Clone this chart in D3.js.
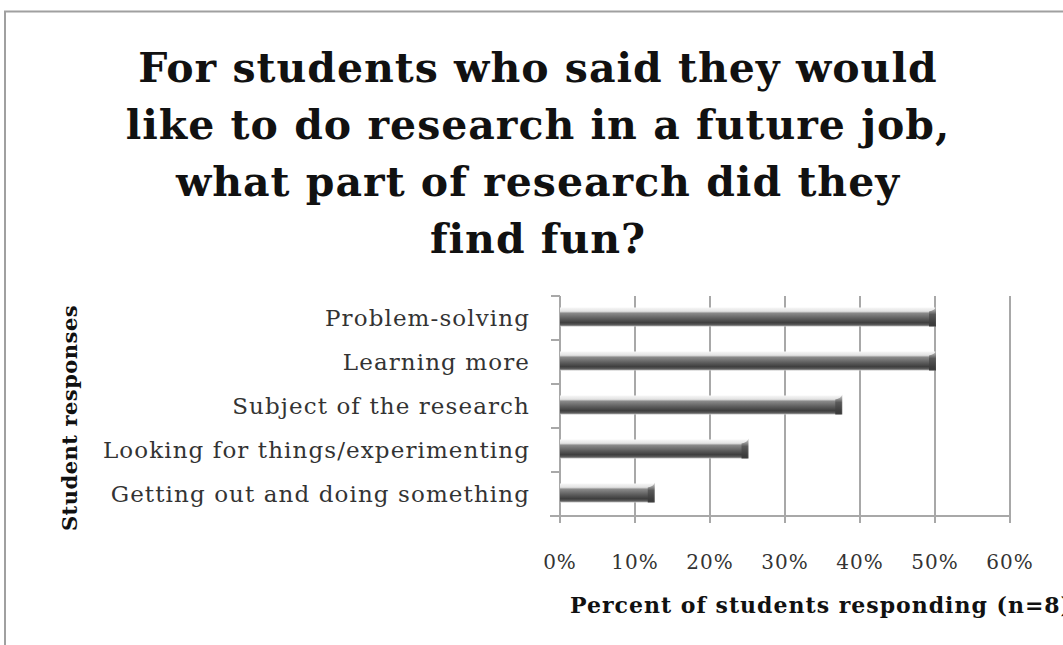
<!DOCTYPE html>
<html><head><meta charset="utf-8">
<script src="https://cdn.jsdelivr.net/npm/d3@7"></script>
<style>body{margin:0;background:#fff;} svg{display:block;}</style>
</head><body>
<script>
const titleLines = ["For students who said they would","like to do research in a future job,","what part of research did they","find fun?"];
const categories = ["Problem-solving","Learning more","Subject of the research","Looking for things/experimenting","Getting out and doing something"];
const values = [0.50, 0.50, 0.375, 0.25, 0.125];
const xTicks = [0,0.1,0.2,0.3,0.4,0.5,0.6];
const xAxisTitle = "Percent of students responding (n=8)";
const yAxisTitle = "Student responses";

const W=1063,H=645;
const svg=d3.select("body").append("svg").attr("width",W).attr("height",H);
const defs=svg.append("defs");
const g=defs.append("linearGradient").attr("id","cyl").attr("x1",0).attr("x2",0).attr("y1",0).attr("y2",1);
[[0,"#f7f7f7"],[0.2,"#e2e2e2"],[0.3,"#8a8a8a"],[0.55,"#626262"],[0.8,"#3e3e3e"],[0.92,"#5e5e5e"],[1,"#c4c4c4"]]
 .forEach(s=>g.append("stop").attr("offset",s[0]).attr("stop-color",s[1]));
const cap=defs.append("linearGradient").attr("id","cap").attr("x1",0).attr("x2",0).attr("y1",0).attr("y2",1);
[[0,"#cfcfcf"],[0.4,"#555"],[1,"#333"]].forEach(s=>cap.append("stop").attr("offset",s[0]).attr("stop-color",s[1]));

// frame
svg.append("path").attr("d","M5,645 V11.5 H1063").attr("fill","none").attr("stroke","#a0a0a0").attr("stroke-width",2);

const serif="'DejaVu Serif',serif";
svg.append("g").selectAll("text").data(titleLines).join("text")
 .attr("x",538).attr("y",(d,i)=>82+i*57).attr("text-anchor","middle")
 .attr("font-family",serif).attr("font-weight","bold").attr("font-size",41).attr("letter-spacing",1).attr("fill","#111")
 .text(d=>d);

const x=d3.scaleLinear().domain([0,0.6]).range([560,1010]);
const y=d3.scaleBand().domain(categories).range([296,516]).paddingInner(0).paddingOuter(0);

// gridlines
svg.append("g").selectAll("line").data(xTicks.slice(1)).join("line")
 .attr("x1",d=>x(d)).attr("x2",d=>x(d)).attr("y1",296).attr("y2",523)
 .attr("stroke","#a8a8a8").attr("stroke-width",2);

// x axis line
svg.append("line").attr("x1",550).attr("x2",1010).attr("y1",516).attr("y2",516).attr("stroke","#a8a8a8").attr("stroke-width",2);
// y axis ticks at band boundaries
const bounds=categories.map(c=>y(c)).concat([y.range()[1]]);
svg.append("g").selectAll("line").data(bounds).join("line")
 .attr("x1",551).attr("x2",560).attr("y1",d=>d).attr("y2",d=>d).attr("stroke","#a8a8a8").attr("stroke-width",2);
svg.append("line").attr("x1",560).attr("x2",560).attr("y1",296).attr("y2",523).attr("stroke","#a8a8a8").attr("stroke-width",2);

// bars
const bh=19;
const bars=svg.append("g").selectAll("g").data(categories).join("g");
bars.append("rect").attr("x",x(0)).attr("y",d=>y(d)+y.bandwidth()/2-bh/2-1)
 .attr("width",(d,i)=>x(values[i])-x(0)).attr("height",bh).attr("fill","url(#cyl)");
bars.append("path").attr("d",(d,i)=>{const xe=x(values[i]),yt=y(d)+y.bandwidth()/2-bh/2+3;return `M${xe-6},${yt} Q${xe},${yt-1} ${xe+1},${yt-5} V${yt+bh-4} H${xe-6} Z`;})
 .attr("fill","url(#cap)").attr("opacity",0.9);

// category labels
svg.append("g").selectAll("text").data(categories).join("text")
 .attr("x",530).attr("y",d=>y(d)+y.bandwidth()/2+8).attr("text-anchor","end")
 .attr("font-family",serif).attr("font-size",23).attr("letter-spacing",1.1).attr("fill","#333").text(d=>d);

// x tick labels
svg.append("g").selectAll("text").data(xTicks).join("text")
 .attr("x",d=>x(d)).attr("y",569).attr("text-anchor","middle")
 .attr("font-family",serif).attr("font-size",20).attr("letter-spacing",1).attr("fill","#333").text(d=>d3.format(".0%")(d));

svg.append("text").attr("x",570).attr("y",613).attr("font-family",serif).attr("font-weight","bold")
 .attr("font-size",22).attr("letter-spacing",1).attr("fill","#111").text(xAxisTitle);
svg.append("text").attr("transform","translate(77,418) rotate(-90)").attr("text-anchor","middle")
 .attr("font-family",serif).attr("font-weight","bold").attr("font-size",21).attr("letter-spacing",0.5).attr("fill","#111").text(yAxisTitle);
</script>
</body></html>
